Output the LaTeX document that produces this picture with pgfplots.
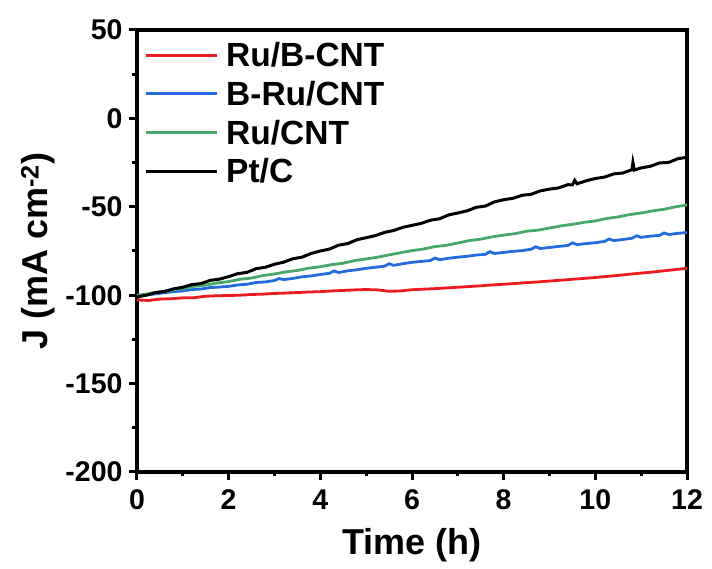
\documentclass[border=0pt]{standalone}
\usepackage{fontspec}
\setmainfont{Liberation Sans}
\usepackage{pgfplots}
\pgfplotsset{compat=1.18}
\definecolor{cRed}{RGB}{235,28,32}
\definecolor{cBlue}{RGB}{36,108,222}
\definecolor{cGreen}{RGB}{72,168,108}

\begin{document}
\begin{tikzpicture}
\useasboundingbox (-137pt,-97pt) rectangle (575pt,472pt);
\begin{axis}[
  at={(0pt,0pt)}, anchor=south west,
  scale only axis, width=550pt, height=442pt,
  xmin=0, xmax=12, ymin=-200, ymax=50,
  xtick={0,2,...,12}, ytick={-200,-150,...,50},
  minor x tick num=1, minor y tick num=1,
  tick pos=left, tick align=outside,
  major tick length=8pt, minor tick length=4.5pt,
  every tick/.style={black, line width=3pt},
  axis line style={line width=3.5pt},
  /pgf/number format/assume math mode=true,
  tick label style={font=\fontsize{28.5}{32}\selectfont\bfseries},
  x tick label style={yshift=-6pt},
  y tick label style={xshift=-3pt},
  xlabel={Time (h)}, ylabel={J (mA cm\textsuperscript{-2})},
  label style={font=\fontsize{36}{40}\selectfont\bfseries},
  xlabel style={at={(axis description cs:0.5,0)}, anchor=base, yshift=-83pt},
  ylabel style={at={(axis description cs:-0.18,0.5)}, anchor=center},
  legend style={at={(axis description cs:0,1)}, anchor=north west, xshift=4pt, yshift=-8pt,
    draw=none, fill=none, font=\fontsize{33.5}{38}\selectfont\bfseries, row sep=9pt,
    /tikz/every odd column/.append style={column sep=6pt}},
  legend cell align=left,
  legend image code/.code={\draw[#1, line width=3pt] (0pt,0pt) -- (71pt,0pt);},
]
\addplot[cRed, line width=2.8pt] coordinates {
(0,-102.7) (0.25,-103.0) (0.5,-102.2) (0.75,-102.0) (1.0,-101.5) (1.25,-101.4) (1.5,-100.6) (1.75,-100.3)
(2.0,-100.2) (2.25,-100.0) (2.5,-99.6) (2.75,-99.4) (3.0,-99.0) (3.25,-98.8) (3.5,-98.5) (3.75,-98.2)
(4.0,-98.0) (4.25,-97.6) (4.5,-97.3) (4.75,-97.0) (5.0,-96.8) (5.25,-97.0) (5.5,-97.8) (5.75,-97.6)
(6.0,-96.9) (6.25,-96.6) (6.5,-96.3) (6.75,-95.9) (7.0,-95.5) (7.25,-95.1) (7.5,-94.7) (7.75,-94.2)
(8.0,-93.8) (8.25,-93.4) (8.5,-92.9) (8.75,-92.5) (9.0,-92.0) (9.25,-91.5) (9.5,-91.0) (9.75,-90.5)
(10.0,-90.0) (10.25,-89.4) (10.5,-88.8) (10.75,-88.1) (11.0,-87.5) (11.25,-86.9) (11.5,-86.2) (11.75,-85.5)
(12.0,-84.8)};
\addlegendentry{Ru/B-CNT}
\addplot[cBlue, line width=2.8pt] coordinates {
(0,-100.5) (0.2,-99.8) (0.4,-99.3) (0.6,-98.6) (0.8,-98.0) (1.0,-97.6) (1.2,-96.8) (1.4,-96.5)
(1.6,-95.7) (1.8,-95.4) (2.0,-95.0) (2.2,-94.2) (2.4,-93.8) (2.6,-92.8) (2.8,-92.5) (3.0,-91.7)
(3.1,-90.6) (3.2,-91.2) (3.4,-90.5) (3.6,-89.6) (3.8,-89.1) (4.0,-88.3) (4.2,-87.6) (4.3,-86.3)
(4.4,-87.2) (4.6,-86.2) (4.8,-85.6) (5.0,-84.8) (5.2,-84.2) (5.4,-83.6) (5.5,-82.2) (5.6,-83.1)
(5.8,-82.2) (6.0,-81.4) (6.2,-80.9) (6.4,-80.4) (6.5,-79.0) (6.6,-79.9) (6.8,-79.1) (7.0,-78.5)
(7.2,-78.0) (7.4,-77.3) (7.6,-76.9) (7.7,-75.4) (7.8,-76.4) (8.0,-75.8) (8.2,-75.2) (8.4,-74.8)
(8.6,-74.0) (8.7,-72.6) (8.8,-73.6) (9.0,-73.0) (9.2,-72.4) (9.4,-71.9) (9.5,-70.4) (9.6,-71.4)
(9.8,-70.8) (10.0,-70.3) (10.2,-69.6) (10.3,-68.2) (10.4,-69.1) (10.6,-68.5) (10.8,-67.8) (10.9,-66.4)
(11.0,-67.3) (11.2,-66.6) (11.4,-66.2) (11.5,-64.8) (11.6,-65.7) (11.8,-65.0) (12.0,-64.6)};
\addlegendentry{B-Ru/CNT}
\addplot[cGreen, line width=2.8pt] coordinates {
(0,-100.0) (0.25,-99.2) (0.5,-98.0) (0.75,-97.3) (1.0,-96.2) (1.25,-95.0) (1.5,-94.3) (1.75,-93.1)
(2.0,-92.3) (2.25,-91.0) (2.5,-90.3) (2.75,-88.9) (3.0,-88.0) (3.25,-86.8) (3.5,-86.0) (3.75,-84.7)
(4.0,-83.9) (4.25,-82.7) (4.5,-81.9) (4.75,-80.4) (5.0,-79.5) (5.25,-78.5) (5.5,-77.2) (5.75,-76.0)
(6.0,-74.8) (6.25,-73.9) (6.5,-72.5) (6.75,-71.8) (7.0,-70.5) (7.25,-69.1) (7.5,-68.3) (7.75,-67.0)
(8.0,-66.0) (8.25,-65.2) (8.5,-63.8) (8.75,-63.2) (9.0,-62.0) (9.25,-60.8) (9.5,-59.9) (9.75,-58.8)
(10.0,-58.0) (10.25,-56.6) (10.5,-55.7) (10.75,-54.4) (11.0,-53.5) (11.25,-52.3) (11.5,-51.4) (11.75,-50.0)
(12.0,-49.0)};
\addlegendentry{Ru/CNT}
\addplot[black, line width=3pt] coordinates {
(0,-101.0) (0.2,-100.0) (0.4,-98.6) (0.6,-97.9) (0.8,-96.4) (1.0,-95.5) (1.2,-94.0) (1.4,-93.4)
(1.6,-91.6) (1.8,-90.9) (2.0,-89.5) (2.2,-87.8) (2.4,-87.1) (2.6,-85.0) (2.8,-84.2) (3.0,-82.5)
(3.2,-81.3) (3.4,-79.4) (3.6,-78.5) (3.8,-76.4) (4.0,-75.0) (4.2,-73.9) (4.4,-71.7) (4.6,-70.8)
(4.8,-68.6) (5.0,-67.5) (5.2,-66.3) (5.4,-64.5) (5.6,-63.4) (5.8,-61.6) (6.0,-60.5) (6.2,-59.4)
(6.4,-57.6) (6.6,-56.8) (6.8,-54.6) (7.0,-53.5) (7.2,-52.3) (7.4,-50.3) (7.6,-49.6) (7.8,-47.2)
(8.0,-46.0) (8.2,-45.2) (8.4,-43.5) (8.6,-42.9) (8.8,-41.0) (9.0,-40.0) (9.2,-39.3) (9.4,-37.5)
(9.5,-37.6) (9.55,-35.0) (9.6,-37.0) (9.8,-35.3) (10.0,-34.0) (10.2,-33.2) (10.4,-31.4) (10.6,-30.9)
(10.8,-29.0) (10.82,-25.0) (10.85,-29.2) (11.0,-28.0) (11.2,-27.1) (11.4,-25.2) (11.6,-24.9) (11.8,-22.8)
(12.0,-22.0)};
\addlegendentry{Pt/C}
\end{axis}
\end{tikzpicture}
\end{document}
